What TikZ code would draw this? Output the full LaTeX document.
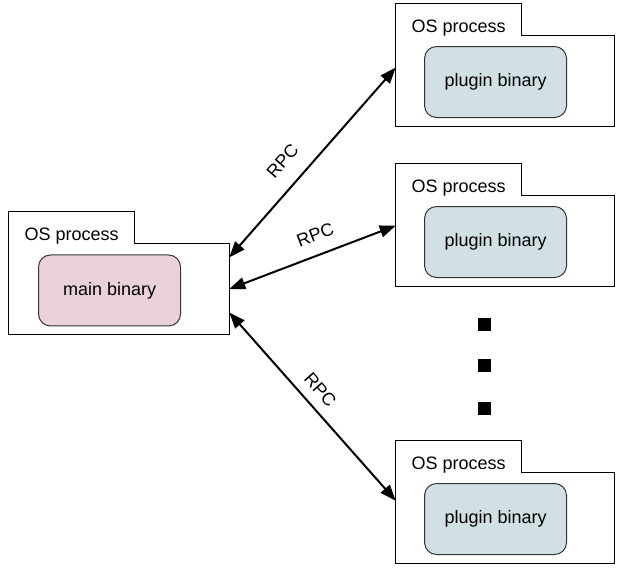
\documentclass[tikz,border=0pt]{standalone}
\usepackage{fontspec}
\setmainfont{Liberation Sans}
\usetikzlibrary{arrows.meta,positioning,calc}
\definecolor{mainpink}{HTML}{EAD1DC}
\definecolor{plugincyan}{HTML}{D0E0E3}

\begin{document}
\begin{tikzpicture}[x=0.75pt, y=-0.75pt, font=\fontsize{13.5}{16}\selectfont,
    procbody/.style={rectangle, inner sep=0pt, minimum width=163.5pt, minimum height=67.5pt},
    proctab/.style={rectangle, inner sep=0pt, minimum width=94pt, minimum height=24pt},
    proctext/.style={anchor=base, inner sep=0pt},
    folder/.style={line width=0.75pt},
    binary/.style={rectangle, rounded corners=9pt, draw=black!80, line width=0.75pt,
                   minimum width=106.5pt, minimum height=53.25pt},
    rpc/.style={line width=1.5pt, {Triangle[length=12pt,width=9pt]}-{Triangle[length=12pt,width=9pt]}},
    rpclabel/.style={sloped, anchor=south, inner sep=0pt},
    dotsq/.style={rectangle, fill=black, inner sep=0pt, minimum size=9.75pt}]
  \useasboundingbox (0,0) rectangle (638,576);

  % main process
  \node[procbody, minimum width=165pt] (main) at (119,289) {};
  \node[proctab, above right=0pt and 0pt of main.north west] (maintab) {};
  \node[proctext] (maintext) at ([yshift=2.25pt]maintab.south) {OS process};
  \node[binary, fill=mainpink] (mainbin) at ([xshift=-7.1pt, yshift=-1.1pt]main.center) {main binary};
  \draw[folder] (main.south west) |- (maintab.north east) |- (main.north east) |- (main.south west) -- cycle;

  % plugin processes
  \node[procbody] (plugA) at (505,81) {};
  \node[proctab, above right=0pt and 0pt of plugA.north west] (plugAtab) {};
  \node[proctext] (plugAtext) at ([yshift=2.25pt]plugAtab.south) {OS process};
  \node[binary, fill=plugincyan] (plugAbin) at ([xshift=-7.1pt, yshift=-0.75pt]plugA.center) {plugin binary};
  \draw[folder] (plugA.south west) |- (plugAtab.north east) |- (plugA.north east) |- (plugA.south west) -- cycle;

  \node[procbody] (plugB) at (505,241) {};
  \node[proctab, above right=0pt and 0pt of plugB.north west] (plugBtab) {};
  \node[proctext] (plugBtext) at ([yshift=2.25pt]plugBtab.south) {OS process};
  \node[binary, fill=plugincyan] (plugBbin) at ([xshift=-7.1pt, yshift=-0.75pt]plugB.center) {plugin binary};
  \draw[folder] (plugB.south west) |- (plugBtab.north east) |- (plugB.north east) |- (plugB.south west) -- cycle;

  \node[procbody] (plugC) at (505,518) {};
  \node[proctab, above right=0pt and 0pt of plugC.north west] (plugCtab) {};
  \node[proctext] (plugCtext) at ([yshift=2.25pt]plugCtab.south) {OS process};
  \node[binary, fill=plugincyan] (plugCbin) at ([xshift=-7.1pt, yshift=-0.75pt]plugC.center) {plugin binary};
  \draw[folder] (plugC.south west) |- (plugCtab.north east) |- (plugC.north east) |- (plugC.south west) -- cycle;

  % ellipsis
  \foreach \y [count=\i] in {324,365.5,408}
    \node[dotsq] (dot\i) at (484,\y) {};

  % RPC links
  \draw[rpc] (main.16) -- (plugA.173) node[rpclabel, outer ysep=12.75pt, pos=.425] (rpcA) {RPC};
  \draw[rpc] (main.east) -- (plugB.172) node[rpclabel, outer ysep=10.5pt, pos=.56] (rpcB) {RPC};
  \draw[rpc] (main.348) -- (plugC.171) node[rpclabel, outer ysep=8pt, pos=.47] (rpcC) {RPC};
\end{tikzpicture}
\end{document}
